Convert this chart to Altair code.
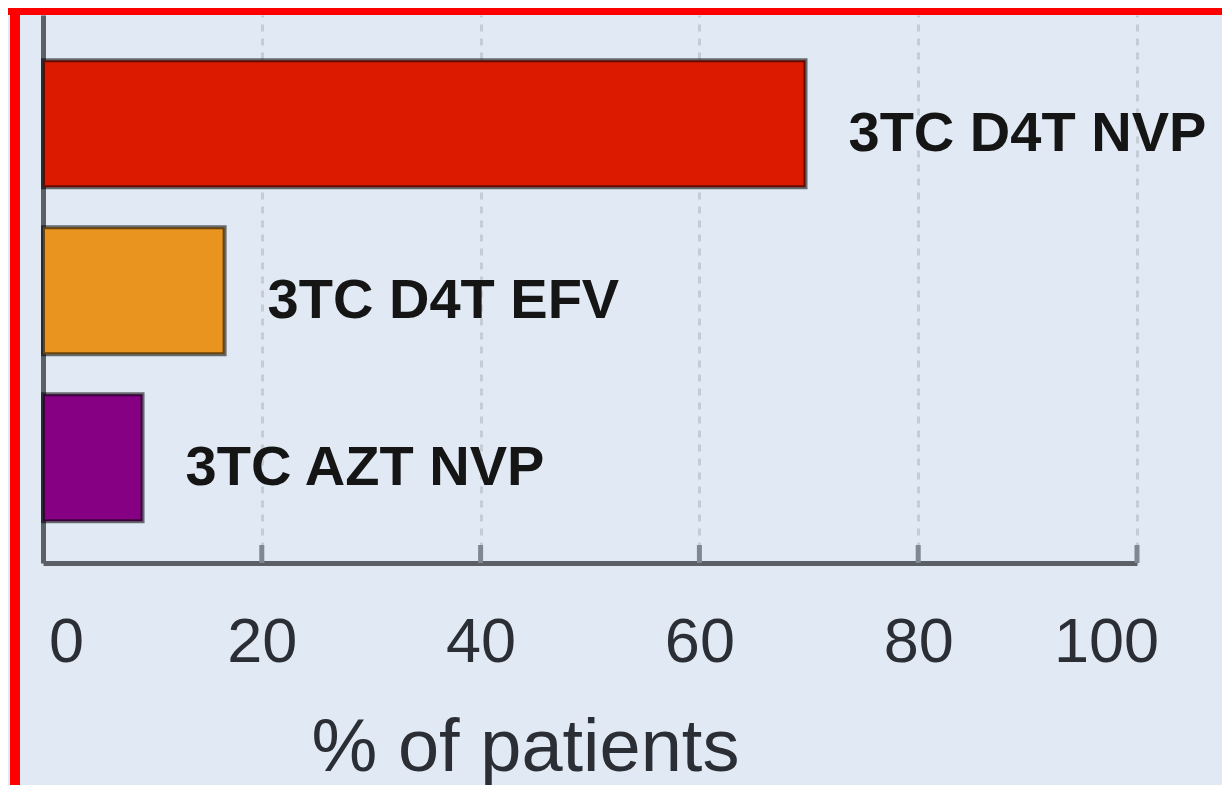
import altair as alt
import pandas as pd

regimens = ["3TC D4T NVP", "3TC D4T EFV", "3TC AZT NVP"]
percents = [69.7, 16.6, 9.1]
bar_colors = ["#dc1a00", "#e8941e", "#850082"]
tick_values = [0, 20, 40, 60, 80, 100]

df = pd.DataFrame({"regimen": regimens, "value": percents})
ticks_df = pd.DataFrame({"tick": tick_values[1:]})

FONT = "Liberation Sans"
W, H = 1094, 548

x_scale = alt.Scale(domain=[0, 100], nice=False, zero=True)
y_scale = alt.Scale(domain=regimens, paddingInner=0.24, paddingOuter=0.26, align=0.52)
color_scale = alt.Scale(domain=regimens, range=bar_colors)

label_offset = {
    "condition": [
        {"test": "datum.value == 0", "value": 23},
        {"test": "datum.value == 100", "value": -31},
    ],
    "value": 0,
}

x_axis = alt.Axis(
    values=tick_values,
    grid=True, gridColor="#c6ccd5", gridDash=[7, 7], gridWidth=3,
    ticks=False, tickSize=0,
    domainColor="#5b6067", domainWidth=5,
    labelFont=FONT, labelFontSize=63, labelColor="#2b2f35",
    labelPadding=48, labelBaseline="top", labelFlush=False,
    labelOffset=label_offset,
    labelOverlap=False,
    title="% of patients", titleFont=FONT, titleFontSize=74,
    titleFontWeight="normal", titleColor="#2b2f35",
    titleX=482, titleY=207, titleBaseline="alphabetic", titleAlign="center",
)
y_axis = alt.Axis(
    labels=False, ticks=False, tickSize=0, grid=False, title=None,
    domainColor="#5b6067", domainWidth=5,
)

bars = alt.Chart(df).mark_bar(
    stroke="black", strokeOpacity=0.55, strokeWidth=4
).encode(
    x=alt.X("value:Q", scale=x_scale, axis=x_axis),
    y=alt.Y("regimen:N", scale=y_scale, axis=y_axis, sort=regimens),
    color=alt.Color("regimen:N", scale=color_scale, legend=None),
)

labels = alt.Chart(df).mark_text(
    align="left", baseline="alphabetic", dx=43, dy=27,
    font=FONT, fontSize=56, fontWeight="bold", color="#151515",
).encode(
    x=alt.X("value:Q"),
    y=alt.Y("regimen:N", sort=regimens),
    text="regimen:N",
)

tick_marks = alt.Chart(ticks_df).mark_rule(
    color="#7f8790", strokeWidth=5
).encode(
    x=alt.X("tick:Q"),
    y=alt.value(H - 18),
    y2=alt.value(H),
)

# red frame (left and top edges) drawn as decorative rules
frame_left = alt.Chart(df).mark_rule(color="#ff0000", strokeWidth=10).encode(
    x=alt.value(-28), y=alt.value(-10), y2=alt.value(H + 240)
)
frame_top = alt.Chart(df).mark_rule(color="#ff0000", strokeWidth=10).encode(
    x=alt.value(-40), x2=alt.value(W + 100), y=alt.value(-5)
)

chart = alt.layer(bars, tick_marks, labels, frame_left, frame_top).properties(
    width=W,
    height=H,
    background="#e1eaf4",
    padding={"left": 35, "top": 7, "right": 85, "bottom": 222},
    autosize=alt.AutoSizeParams(type="none"),
).configure_view(
    stroke=None
)

chart.save("out.html", embed_options={"renderer": "svg", "actions": False})
